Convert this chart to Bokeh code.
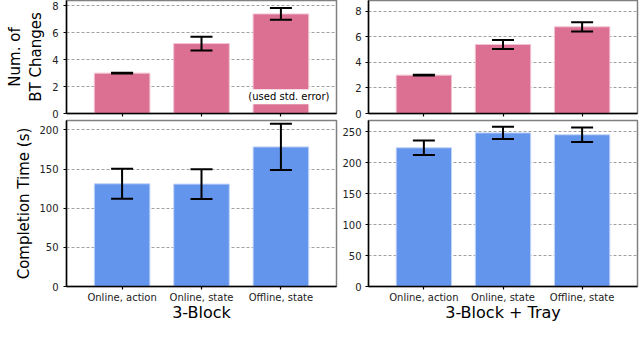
from bokeh.plotting import figure
from bokeh.layouts import column, row
from bokeh.models import Range1d, FixedTicker, Whisker, TeeHead, ColumnDataSource, Label
from bokeh.embed import file_html
from bokeh.resources import INLINE

# ---- data ----
conditions = ["Online, action", "Online, state", "Offline, state"]
positions = [0, 1, 2]

bt_block = [3.0, 5.2, 7.4]
bt_block_err = [0.03, 0.51, 0.44]
bt_tray = [3.0, 5.4, 6.78]
bt_tray_err = [0.03, 0.35, 0.36]

time_block = [131.2, 130.8, 178.3]
time_block_err = [19.2, 19.0, 29.5]
time_tray = [224.0, 248.0, 245.0]
time_tray_err = [11.6, 10.0, 11.8]

bt_ticks = [0, 2, 4, 6, 8]
time_block_ticks = [0, 50, 100, 150, 200]
time_tray_ticks = [0, 50, 100, 150, 200, 250]

PINK = "#DB7093"
PINK_EDGE = "#f2c3d2"
BLUE = "#6495ED"
BLUE_EDGE = "#c4d5f8"
FONT = "DejaVu Sans"


def panel(vals, errs, color, edge, y_end, yticks, width, height,
          mb_left, mb_right, mb_top, mb_bottom, show_x, ystand,
          xlabel=None, ylabel=None, ylabel_stand=7):
    p = figure(width=width, height=height, output_backend="svg", toolbar_location=None,
               x_range=Range1d(-0.7, 2.7), y_range=Range1d(0, y_end),
               min_border_left=mb_left, min_border_right=mb_right,
               min_border_top=mb_top, min_border_bottom=mb_bottom)
    p.background_fill_color = "white"
    p.border_fill_color = "white"
    p.outline_line_color = "#808080"
    p.outline_line_width = 1.5

    src = ColumnDataSource(dict(
        x=positions, top=vals,
        upper=[v + e for v, e in zip(vals, errs)],
        lower=[v - e for v, e in zip(vals, errs)]))
    p.vbar(x="x", top="top", width=0.7, source=src, fill_color=color,
           line_color=edge, line_width=1)

    w = Whisker(source=src, base="x", upper="upper", lower="lower",
                line_color="black", line_width=2, level="annotation",
                upper_head=TeeHead(size=22, line_color="black", line_width=2),
                lower_head=TeeHead(size=22, line_color="black", line_width=2))
    p.add_layout(w)

    p.xgrid.visible = False
    p.ygrid.grid_line_color = "#a0a0a0"
    p.ygrid.grid_line_dash = "3 2"
    p.ygrid.grid_line_width = 1
    p.ygrid.ticker = FixedTicker(ticks=yticks)

    ya = p.yaxis[0]
    ya.ticker = FixedTicker(ticks=yticks)
    ya.minor_tick_line_color = None
    ya.major_tick_in = 0
    ya.major_tick_out = 3
    ya.major_tick_line_width = 1.2
    ya.axis_line_color = "black"
    ya.axis_line_width = 1.5
    ya.major_label_text_font = FONT
    ya.major_label_text_font_size = "10px"
    ya.major_label_text_color = "#222222"
    ya.major_label_standoff = ystand
    if ylabel:
        ya.axis_label = ylabel
        ya.axis_label_text_font = FONT
        ya.axis_label_text_font_size = "15px"
        ya.axis_label_text_font_style = "normal"
        ya.axis_label_text_color = "black"
        ya.axis_label_standoff = ylabel_stand

    xa = p.xaxis[0]
    xa.ticker = FixedTicker(ticks=positions)
    xa.minor_tick_line_color = None
    xa.major_tick_in = 0
    xa.major_tick_out = 3
    xa.major_tick_line_width = 1.2
    xa.axis_line_color = "black"
    xa.axis_line_width = 1.5
    if show_x:
        xa.major_label_overrides = {i: c for i, c in zip(positions, conditions)}
        xa.major_label_text_font = FONT
        xa.major_label_text_font_size = "10px"
        xa.major_label_text_color = "#222222"
        xa.major_label_standoff = 2
        xa.axis_label = xlabel
        xa.axis_label_text_font = FONT
        xa.axis_label_text_font_size = "16px"
        xa.axis_label_text_font_style = "normal"
        xa.axis_label_text_color = "black"
        xa.axis_label_standoff = -3
    else:
        xa.major_label_text_font_size = "0px"
        xa.major_label_text_color = None
        xa.major_label_standoff = 0
    return p


tl = panel(bt_block, bt_block_err, PINK, PINK_EDGE, 8.4, bt_ticks,
           338, 119, 66, 2, 0, 6, False, 5, ylabel="Num. of\nBT Changes", ylabel_stand=4)
note = Label(x=2, y=1.24, x_offset=8, text="(used std. error)", text_align="center",
             text_baseline="middle", text_font=FONT, text_font_size="10px",
             text_color="black", background_fill_color="white", padding=2)
tl.add_layout(note)

tr = panel(bt_tray, bt_tray_err, PINK, PINK_EDGE, 8.84, bt_ticks,
           302, 119, 30, 3, 0, 6, False, 4)

bl = panel(time_block, time_block_err, BLUE, BLUE_EDGE, 212, time_block_ticks,
           338, 227, 66, 2, 1, 60, True, 5, xlabel="3-Block",
           ylabel="Completion Time (s)", ylabel_stand=3)
br = panel(time_tray, time_tray_err, BLUE, BLUE_EDGE, 268, time_tray_ticks,
           302, 227, 30, 3, 1, 60, True, 4, xlabel="3-Block + Tray")

layout = column(row(tl, tr), row(bl, br))
open("out.html", "w").write(file_html(layout, INLINE))
